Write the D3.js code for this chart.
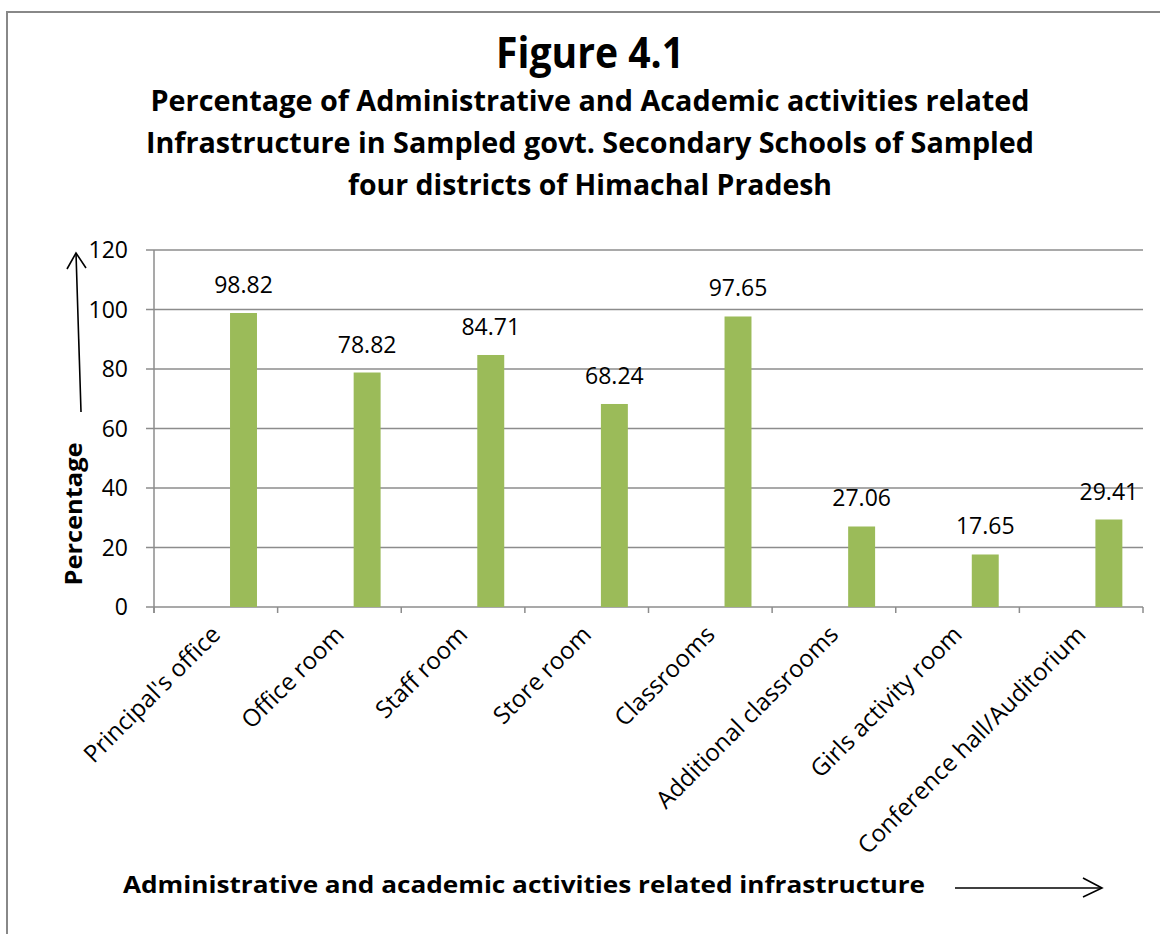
<!DOCTYPE html>
<html>
<head>
<meta charset="utf-8">
<script src="https://cdn.jsdelivr.net/npm/d3@7"></script>
<style>
  body { margin: 0; background: #fff; }
  text { font-family: "Open Sans", sans-serif; fill: #000; }
</style>
</head>
<body>
<div id="chart"></div>
<script>
var categories = ["Principal's office", "Office room", "Staff room", "Store room",
  "Classrooms", "Additional classrooms", "Girls activity room", "Conference hall/Auditorium"];
var values = [98.82, 78.82, 84.71, 68.24, 97.65, 27.06, 17.65, 29.41];
var yTicks = [0, 20, 40, 60, 80, 100, 120];
var titleLines = [
  "Percentage of Administrative and Academic activities related",
  "Infrastructure in Sampled govt. Secondary Schools of Sampled",
  "four districts of Himachal Pradesh"
];

var W = 1160, H = 934;
var svg = d3.select("#chart").append("svg")
  .attr("width", W).attr("height", H);

// frame
svg.append("path")
  .attr("d", "M7," + H + " L7,12 L" + W + ",12")
  .attr("fill", "none").attr("stroke", "#888").attr("stroke-width", 2);

// titles
svg.append("text")
  .attr("x", 590).attr("y", 68)
  .attr("text-anchor", "middle")
  .attr("font-size", 43).attr("font-weight", "bold")
  .attr("textLength", 188).attr("lengthAdjust", "spacingAndGlyphs")
  .text("Figure 4.1");

var titleLens = [879, 888, 484];
svg.selectAll(".sub").data(titleLines).enter().append("text")
  .attr("class", "sub")
  .attr("x", 590).attr("y", function(d, i){ return 111 + i * 42; })
  .attr("text-anchor", "middle")
  .attr("font-size", 29).attr("font-weight", "bold")
  .attr("textLength", function(d, i){ return titleLens[i]; })
  .attr("lengthAdjust", "spacingAndGlyphs")
  .text(function(d){ return d; });

var pLeft = 154, pRight = 1143, pTop = 250, pBottom = 607;

var x = d3.scaleBand().domain(categories).range([pLeft, pRight]).padding(0);
var y = d3.scaleLinear().domain([0, 120]).range([pBottom, pTop]);

// gridlines
svg.append("g").selectAll("line").data(yTicks).enter().append("line")
  .attr("x1", pLeft - 8).attr("x2", pRight)
  .attr("y1", function(d){ return y(d); }).attr("y2", function(d){ return y(d); })
  .attr("stroke", "#8c8c8c").attr("stroke-width", 1.5);

// y axis line
svg.append("line")
  .attr("x1", pLeft).attr("x2", pLeft).attr("y1", pTop).attr("y2", pBottom + 6)
  .attr("stroke", "#8c8c8c").attr("stroke-width", 1.5);

// x ticks at category boundaries
var bounds = categories.map(function(c){ return x(c); }).concat([pRight]);
svg.append("g").selectAll("line").data(bounds).enter().append("line")
  .attr("x1", function(d){ return d; }).attr("x2", function(d){ return d; })
  .attr("y1", pBottom).attr("y2", pBottom + 6)
  .attr("stroke", "#8c8c8c").attr("stroke-width", 1.5);

// y tick labels
svg.append("g").selectAll("text").data(yTicks).enter().append("text")
  .attr("x", pLeft - 26).attr("y", function(d){ return y(d) + 8; })
  .attr("text-anchor", "end")
  .attr("font-size", 23)
  .text(function(d){ return d; });

// bars sit right of the category centre, as in the original clustered layout
var barW = x.bandwidth() * 0.218;
var barX = function(d, i){ return x(categories[i]) + x.bandwidth() * 0.615; };

svg.append("g").selectAll("rect").data(values).enter().append("rect")
  .attr("x", barX)
  .attr("y", function(d){ return y(d); })
  .attr("width", barW)
  .attr("height", function(d){ return pBottom - y(d); })
  .attr("fill", "#9bbb59");

// value labels
svg.append("g").selectAll("text").data(values).enter().append("text")
  .attr("x", function(d, i){ return barX(d, i) + barW / 2; })
  .attr("y", function(d){ return y(d) - 20; })
  .attr("text-anchor", "middle")
  .attr("font-size", 23)
  .text(function(d){ return d.toFixed(2); });

// category labels
svg.append("g").selectAll("text").data(categories).enter().append("text")
  .attr("text-anchor", "end")
  .attr("font-size", 24)
  .attr("transform", function(d){
    return "translate(" + (x(d) + x.bandwidth() / 2 + 6) + "," + (pBottom + 29) + ") rotate(-45)";
  })
  .text(function(d){ return d; });

// y axis title
svg.append("text")
  .attr("transform", "translate(82,514) rotate(-90)")
  .attr("text-anchor", "middle")
  .attr("font-size", 24).attr("font-weight", "bold")
  .attr("textLength", 143).attr("lengthAdjust", "spacingAndGlyphs")
  .text("Percentage");

// x axis title
svg.append("text")
  .attr("x", 123).attr("y", 893)
  .attr("font-size", 24).attr("font-weight", "bold")
  .attr("textLength", 802).attr("lengthAdjust", "spacingAndGlyphs")
  .text("Administrative and academic activities related infrastructure");

// arrows
var arrow = svg.append("g").attr("fill", "none").attr("stroke", "#000").attr("stroke-width", 1.6);
arrow.append("path").attr("d", "M81,412 L76,253");
arrow.append("path").attr("d", "M67,269 L76,253 L86,268");
arrow.append("path").attr("d", "M955,888 L1102,888");
arrow.append("path").attr("d", "M1083,878 L1102,888 L1083,897");
</script>
</body>
</html>
